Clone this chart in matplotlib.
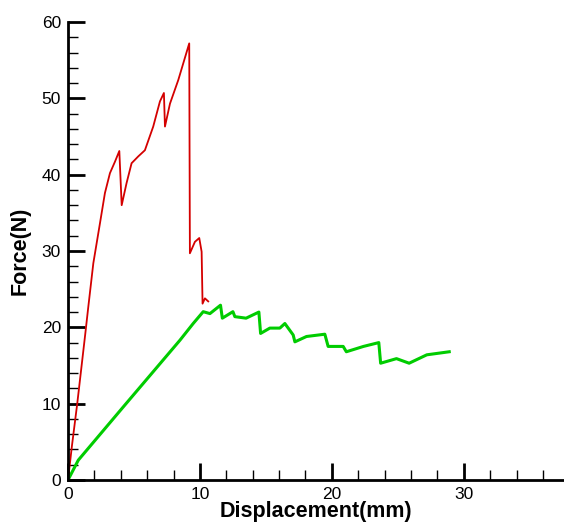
import numpy as np
import matplotlib.pyplot as plt
from matplotlib.ticker import MultipleLocator

plt.rcParams['font.family'] = ['Liberation Sans', 'DejaVu Sans']

# red specimen
red_x = [0.0, 0.3, 0.7, 1.0, 1.3, 1.54, 1.92, 2.42, 2.80, 3.18, 3.56, 3.89,
         4.07, 4.44, 4.82, 5.33, 5.83, 6.46, 6.97, 7.27, 7.35, 7.73, 8.36, 9.19,
         9.24, 9.62, 9.95, 10.13, 10.2, 10.38, 10.63]
red_y = [0.0, 4.5, 10.0, 14.5, 19.0, 22.7, 28.4, 33.6, 37.6, 40.2, 41.7, 43.1,
         36.0, 38.9, 41.5, 42.4, 43.2, 46.3, 49.6, 50.7, 46.3, 49.3, 52.4, 57.2,
         29.7, 31.2, 31.7, 29.9, 23.1, 23.8, 23.4]

# green specimen
green_x = [0.0, 0.78, 4.3, 8.48, 9.49, 10.25, 10.76, 11.56, 11.7, 12.5, 12.65,
           13.5, 14.47, 14.6, 15.3, 16.06, 16.44, 17.07, 17.2, 18.08, 19.47,
           19.72, 20.86, 21.1, 22.4, 23.56, 23.7, 24.9, 25.86, 27.2, 28.9]
green_y = [0.0, 2.6, 9.8, 18.3, 20.5, 22.05, 21.8, 22.9, 21.2, 22.05, 21.4,
           21.2, 22.0, 19.2, 19.9, 19.9, 20.5, 19.0, 18.1, 18.8, 19.1,
           17.5, 17.5, 16.8, 17.5, 18.0, 15.3, 15.9, 15.3, 16.4, 16.8]

fig = plt.figure(figsize=(5.64, 5.24), dpi=100)
ax = fig.add_axes([68 / 564, 44 / 524, 1 - 68 / 564, 458 / 524])

ax.plot(red_x, red_y, color='#d40000', lw=1.3)
ax.plot(green_x, green_y, color='#00cc00', lw=2.2)

ax.set_xlim(0, 37.6)
ax.set_ylim(0, 60)
ax.xaxis.set_major_locator(MultipleLocator(10))
ax.xaxis.set_minor_locator(MultipleLocator(2))
ax.yaxis.set_major_locator(MultipleLocator(10))
ax.yaxis.set_minor_locator(MultipleLocator(2))

for s in ['top', 'right']:
    ax.spines[s].set_visible(False)
for s in ['left', 'bottom']:
    ax.spines[s].set_linewidth(2)

ax.tick_params(which='major', direction='in', length=12, width=2,
               labelsize=12.5, pad=5)
ax.tick_params(which='minor', direction='in', length=7, width=1)

ax.set_xlabel('Displacement(mm)', fontsize=15.5, fontweight='bold', labelpad=-1)
ax.set_ylabel('Force(N)', fontsize=15.5, fontweight='bold', labelpad=8)

fig.savefig('out.png', dpi=100)
